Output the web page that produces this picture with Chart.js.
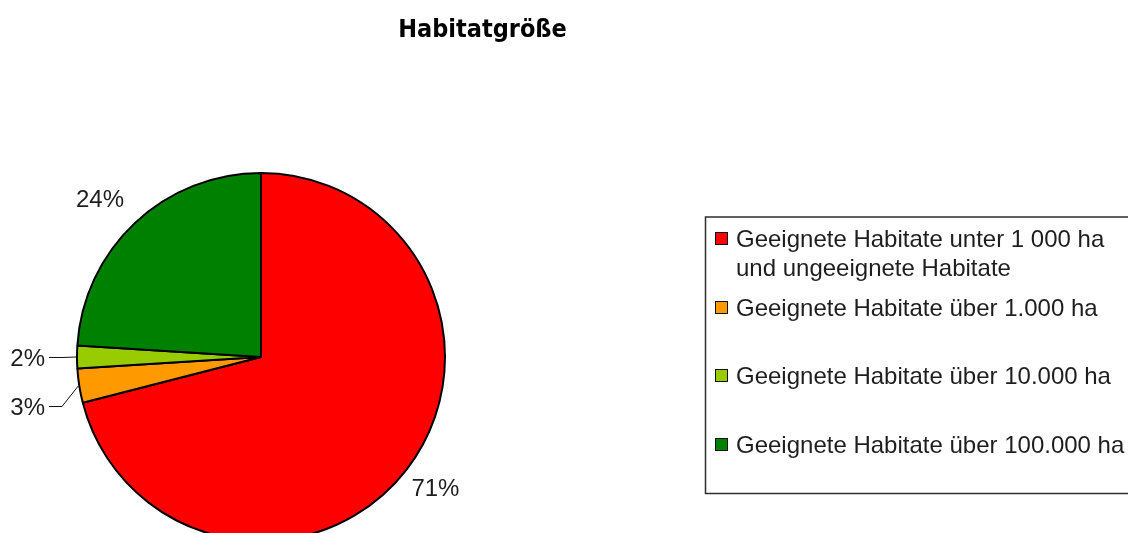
<!DOCTYPE html>
<html><head><meta charset="utf-8">
<script src="https://cdn.jsdelivr.net/npm/chart.js@4/dist/chart.umd.min.js"></script>
<style>html,body{margin:0;padding:0;background:#fff;overflow:hidden}canvas{display:block}</style>
</head><body>
<canvas id="c" width="1128" height="533"></canvas>
<script>
// ---- data ----
const chartTitle = "Habitatgröße";
const categories = [
  ["Geeignete Habitate unter 1 000 ha", "und ungeeignete Habitate"],
  ["Geeignete Habitate über 1.000 ha"],
  ["Geeignete Habitate über 10.000 ha"],
  ["Geeignete Habitate über 100.000 ha"]
];
const shares = [71, 3, 2, 24];
const valueLabels = ["71%", "3%", "2%", "24%"];
const colors = ["#FF0000", "#FF9900", "#99CC00", "#008000"];

// ---- styles / layout ----
const TEXT_FONT = "24px 'Liberation Sans', Arial, sans-serif";
const TITLE_FONT = "bold 25px 'DejaVu Sans Condensed', 'DejaVu Sans', sans-serif";
const TEXT_COLOR = "#1e1e1e";

const titlePlugin = {
  id: 'customTitle',
  afterDraw(chart) {
    const ctx = chart.ctx;
    ctx.save();
    ctx.font = TITLE_FONT;
    ctx.fillStyle = "#000";
    ctx.textAlign = "center";
    ctx.textBaseline = "alphabetic";
    ctx.fillText(chartTitle, 482.5, 37);
    ctx.restore();
  }
};

const pieLabelPlugin = {
  id: 'pieLabels',
  afterDatasetsDraw(chart, args, opts) {
    const ctx = chart.ctx;
    const arcs = chart.getDatasetMeta(0).data;
    ctx.save();
    ctx.font = TEXT_FONT;
    ctx.fillStyle = TEXT_COLOR;
    ctx.strokeStyle = "#111";
    ctx.lineWidth = 1;
    arcs.forEach((arc, i) => {
      const p = arc.getProps(['x', 'y', 'startAngle', 'endAngle', 'outerRadius'], true);
      const mid = (p.startAngle + p.endAngle) / 2;
      const frac = (p.endAngle - p.startAngle) / (2 * Math.PI);
      const c = Math.cos(mid), s = Math.sin(mid);
      const txt = chart.data.datasets[0].valueLabels[i];
      if (frac >= 0.05) {
        const R = p.outerRadius + opts.gap;
        const nudge = opts.nudge[i] || [0, 0];
        const cx = p.x + c * R + nudge[0];
        const cy = p.y + s * R + nudge[1];
        ctx.textAlign = "center";
        ctx.textBaseline = "alphabetic";
        ctx.fillText(txt, cx, cy + 8.5);
      } else {
        const ex = p.x + c * (p.outerRadius + 1);
        const ey = p.y + s * (p.outerRadius + 1);
        const dy = opts.smallDy[i] || 0;
        const ly = Math.round(ey + dy) + 0.5;
        ctx.beginPath();
        ctx.moveTo(ex, ey);
        ctx.lineTo(opts.elbowX, ly);
        ctx.lineTo(opts.lineEndX, ly);
        ctx.stroke();
        ctx.textAlign = "right";
        ctx.textBaseline = "alphabetic";
        ctx.fillText(txt, opts.smallTextX, ly + 8.5);
      }
    });
    ctx.restore();
  }
};

const legendPlugin = {
  id: 'boxLegend',
  afterDraw(chart, args, opts) {
    const ctx = chart.ctx;
    const ds = chart.data.datasets[0];
    ctx.save();
    ctx.strokeStyle = "#2e2e2e";
    ctx.lineWidth = 1.5;
    ctx.strokeRect(opts.left, opts.top, opts.width, opts.height);
    ctx.font = TEXT_FONT;
    ctx.fillStyle = TEXT_COLOR;
    ctx.textAlign = "left";
    ctx.textBaseline = "alphabetic";
    chart.data.labels.forEach((lines, i) => {
      const base = opts.firstBaseline + i * opts.itemStep;
      const my = base - 8.5;
      ctx.fillStyle = ds.backgroundColor[i];
      ctx.fillRect(opts.markerX, Math.round(my - 6.5), 13, 13);
      ctx.strokeStyle = "#111";
      ctx.lineWidth = 1;
      ctx.strokeRect(opts.markerX + 0.5, Math.round(my - 6.5) + 0.5, 12, 12);
      ctx.fillStyle = TEXT_COLOR;
      lines.forEach((ln, j) => {
        ctx.fillText(ln, opts.textX, base + j * opts.lineStep);
      });
    });
    ctx.restore();
  }
};

new Chart(document.getElementById('c'), {
  type: 'pie',
  data: {
    labels: categories,
    datasets: [{
      data: shares,
      valueLabels: valueLabels,
      backgroundColor: colors,
      borderColor: "#000",
      borderWidth: 2,
      radius: 184,
      clip: false
    }]
  },
  options: {
    responsive: false,
    animation: false,
    devicePixelRatio: 1,
    layout: { padding: { left: 77, right: 683, top: 181, bottom: 0 } },
    plugins: {
      legend: { display: false },
      title: { display: false },
      tooltip: { enabled: false },
      pieLabels: {
        gap: 38,
        nudge: [[-1, -6], [0, 0], [0, 0], [-9, 3]],
        smallDy: [0, 20, 0, 0],
        elbowX: 62,
        lineEndX: 49,
        smallTextX: 45
      },
      boxLegend: {
        left: 705.5, top: 217, width: 430, height: 276.5,
        markerX: 715, textX: 736,
        firstBaseline: 247, itemStep: 68.7, lineStep: 28.5
      }
    }
  },
  plugins: [titlePlugin, pieLabelPlugin, legendPlugin]
});
</script>
</body></html>
